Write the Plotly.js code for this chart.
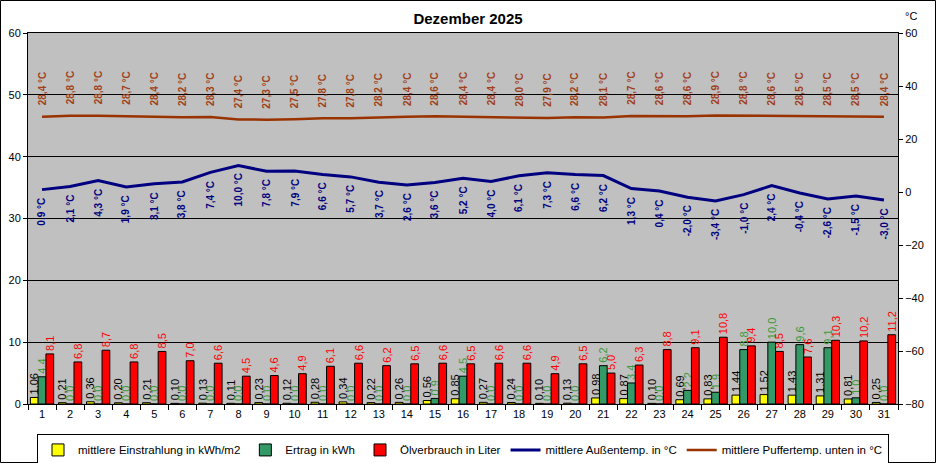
<!DOCTYPE html>
<html>
<head>
<meta charset="utf-8">
<script src="https://cdn.plot.ly/plotly-3.0.1.min.js"></script>
<style>
  body { margin: 0; background: #fff; }
  #chart { width: 936px; height: 463px; }
</style>
</head>
<body>
<div id="chart"></div>
<script>
// Dezember 2025 - Tageswerte
const days = [];
for (let d = 1; d <= 31; d++) days.push(String(d));

const einstrahlung = [1.06, 0.21, 0.36, 0.20, 0.21, 0.10, 0.13, 0.11, 0.23, 0.12, 0.28,
  0.34, 0.22, 0.26, 0.56, 0.85, 0.27, 0.24, 0.10, 0.13, 0.98, 0.87, 0.10, 0.69, 0.83,
  1.44, 1.52, 1.43, 1.31, 0.81, 0.25];
const ertrag = [4.4, 0.0, 0.0, 0.0, 0.0, 0.0, 0.0, 0.0, 0.0, 0.0, 0.0,
  0.0, 0.0, 0.0, 0.9, 4.5, 0.0, 0.0, 0.0, 0.0, 6.2, 3.4, 0.0, 2.2, 1.9,
  8.8, 10.0, 9.6, 9.1, 1.0, 0.0];
const oel = [8.1, 6.8, 8.7, 6.8, 8.5, 7.0, 6.6, 4.5, 4.6, 4.9, 6.1,
  6.6, 6.2, 6.5, 6.6, 6.5, 6.6, 6.6, 4.9, 6.5, 5.0, 6.3, 8.8, 9.1, 10.8,
  9.4, 8.5, 7.6, 10.3, 10.2, 11.2];
const aussen = [0.9, 2.1, 4.3, 1.9, 3.1, 3.8, 7.4, 10.0, 7.8, 7.9, 6.6,
  5.7, 3.7, 2.6, 3.6, 5.2, 4.0, 6.1, 7.3, 6.6, 6.2, 1.3, 0.4, -2.0, -3.4,
  -1.0, 2.4, -0.4, -2.6, -1.5, -3.0];
const puffer = [28.4, 28.8, 28.8, 28.7, 28.4, 28.2, 28.3, 27.4, 27.3, 27.5, 27.8,
  27.8, 28.2, 28.4, 28.6, 28.4, 28.4, 28.0, 27.9, 28.2, 28.1, 28.7, 28.6, 28.6, 28.9,
  28.8, 28.6, 28.5, 28.5, 28.5, 28.4];

const fmt = (v, n) => v.toFixed(n).replace('.', ',');
const FONT = 'Liberation Sans, Arial, sans-serif';

function barTrace(name, vals, dec, fill, txtColor) {
  return {
    x: days, y: vals, name: name, type: 'bar',
    marker: {color: fill, line: {color: '#000', width: 1}},
    text: vals.map(v => fmt(v, dec)),
    textposition: 'outside', textangle: -90, constraintext: 'none',
    cliponaxis: false,
    textfont: {family: FONT, size: 11, color: txtColor}
  };
}

const data = [
  barTrace('mittlere Einstrahlung in kWh/m2', einstrahlung, 2, '#FFFF00', '#000000'),
  barTrace('Ertrag in kWh', ertrag, 1, '#339966', '#3A9A3A'),
  barTrace('Ölverbrauch in Liter', oel, 1, '#FF0000', '#FF0000'),
  {
    x: days, y: aussen, yaxis: 'y2', name: 'mittlere Außentemp. in °C',
    type: 'scatter', mode: 'lines', line: {color: '#000080', width: 3}
  },
  {
    x: days, y: puffer, yaxis: 'y2', name: 'mittlere Puffertemp. unten in °C',
    type: 'scatter', mode: 'lines', line: {color: '#993300', width: 2.5}
  }
];

// rotated point labels (x given as category index)
const annotations = [];
days.forEach((d, i) => {
  annotations.push({
    x: i, y: aussen[i], xref: 'x', yref: 'y2', text: fmt(aussen[i], 1) + ' °C',
    showarrow: false, textangle: -90, yanchor: 'top', yshift: -6,
    font: {family: FONT, size: 10, color: '#000080', weight: 'bold'}
  });
  annotations.push({
    x: i, y: puffer[i], xref: 'x', yref: 'y2', text: fmt(puffer[i], 1) + ' °C',
    showarrow: false, textangle: -90, yanchor: 'bottom', yshift: 9,
    font: {family: FONT, size: 10, color: '#A0401A', weight: 'bold'}
  });
});
annotations.push({
  x: 1.006, y: 1.025, xref: 'paper', yref: 'paper', xanchor: 'left', yanchor: 'bottom',
  text: '°C', showarrow: false, font: {family: FONT, size: 11, color: '#000'}
});

const L = 28, R = 38, T = 33, B = 59, W = 936, H = 463;
const pw = W - L - R, ph = H - T - B;

const layout = {
  width: W, height: H,
  margin: {l: L, r: R, t: T, b: B, pad: 0, autoexpand: false},
  paper_bgcolor: '#FFFFFF',
  plot_bgcolor: '#C0C0C0',
  font: {family: FONT, size: 11, color: '#000'},
  title: {text: '<b>Dezember 2025</b>', x: 0.5, xref: 'container', y: 1 - 19 / H,
    yref: 'container', yanchor: 'middle',
    font: {family: FONT, size: 15, color: '#000'}},
  barmode: 'group', bargap: 0.17, bargroupgap: 0,
  showlegend: true,
  legend: {
    orientation: 'h', x: 0.5, xanchor: 'center', y: -0.082, yanchor: 'top',
    bgcolor: '#FFFFFF', bordercolor: '#000', borderwidth: 1,
    font: {family: FONT, size: 11.5, color: '#000'}, traceorder: 'normal',
    itemwidth: 30, tracegroupgap: 0
  },
  xaxis: {
    type: 'category', tickson: 'boundaries', ticks: 'outside', ticklen: 5,
    tickcolor: '#000', showline: true, linecolor: '#000', linewidth: 1,
    mirror: true, showgrid: false, zeroline: false,
    tickfont: {family: FONT, size: 11}
  },
  yaxis: {
    range: [0, 60], dtick: 10, ticks: 'outside', ticklen: 4, tickcolor: '#000',
    showline: true, linecolor: '#000', linewidth: 1, mirror: true,
    showgrid: true, gridcolor: '#000', gridwidth: 1, zeroline: false,
    tickfont: {family: FONT, size: 11}
  },
  yaxis2: {
    overlaying: 'y', side: 'right', range: [-80, 60], dtick: 20,
    ticks: 'outside', ticklen: 4, tickcolor: '#000', showgrid: false,
    zeroline: false, showline: false,
    tickfont: {family: FONT, size: 11}
  },
  annotations: annotations,
  shapes: [{
    type: 'rect', xref: 'paper', yref: 'paper',
    x0: -(L - 0.5) / pw, x1: (W - L - 0.5) / pw,
    y0: -(B - 0.5) / ph, y1: (H - B - 0.5) / ph,
    line: {color: '#000', width: 1}, layer: 'above'
  }],
  hovermode: false
};

Plotly.newPlot('chart', data, layout, {displayModeBar: false, staticPlot: true});
</script>
</body>
</html>
